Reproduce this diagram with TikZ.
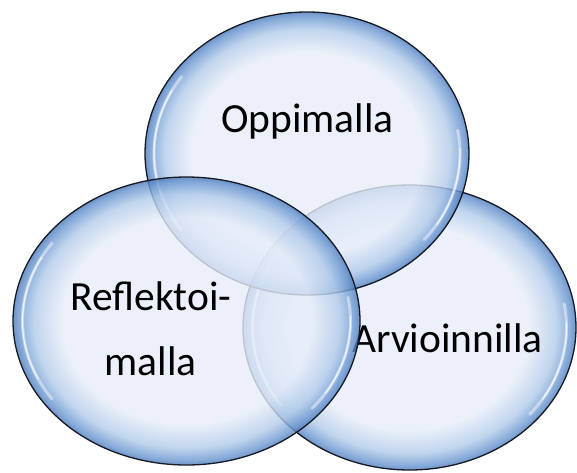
\documentclass[tikz,border=0pt]{standalone}
\usepackage{fontspec}
\setmainfont{Carlito}
\usetikzlibrary{shapes.geometric}

% bubble colours
\definecolor{bubblein}{RGB}{230,237,249}
\definecolor{bubblemid}{RGB}{178,203,234}
\definecolor{bubblerim}{RGB}{105,150,208}
\definecolor{bubbleedge}{RGB}{78,122,188}
\definecolor{bubbleline}{RGB}{20,25,35}

% light centre, blue rim
\pgfdeclareradialshading{bubble}{\pgfpoint{0bp}{0bp}}{%
  color(0bp)=(bubblein); color(18bp)=(bubblein); color(22bp)=(bubblemid);
  color(24.2bp)=(bubblerim); color(25bp)=(bubbleedge); color(50bp)=(bubbleedge)}

\tikzset{
  bubblenode/.style={ellipse, inner sep=0pt, shading=bubble, shade,
    fill opacity=0.8, draw=bubbleline, draw opacity=1, line width=1.3pt},
  gloss/.style={white, line width=3pt, line cap=round, draw opacity=0.45},
  glossthin/.style={white, line width=1.2pt, line cap=round, draw opacity=0.75},
  lbl/.style={font=\fontsize{41.5}{50}\selectfont, text=black, inner sep=0pt, anchor=base}
}

\begin{document}
\begin{tikzpicture}[x=1pt, y=1pt]
  \fill[white] (0,0) rectangle (577,472);
  \useasboundingbox (0,0) rectangle (577,472);

  % right bubble
  \node[bubblenode, minimum width=333pt, minimum height=285pt] (arvi) at (409.5,144.5) {};
  \begin{scope}[shift={(arvi.center)}]
    \draw[gloss] (145:157 and 135) arc[start angle=145, end angle=215, x radius=157, y radius=135];
    \draw[glossthin] (152:157 and 135) arc[start angle=152, end angle=205, x radius=157, y radius=135];
    \draw[gloss] (-40:157 and 135) arc[start angle=-40, end angle=10, x radius=157, y radius=135];
    \draw[glossthin] (-32:157 and 135) arc[start angle=-32, end angle=2, x radius=157, y radius=135];
  \end{scope}
  \node[lbl] (arvitext) at (447.5,120) {Arvioinnilla};

  % top bubble
  \node[bubblenode, minimum width=324pt, minimum height=283pt] (oppi) at (307,318.5) {};
  \begin{scope}[shift={(oppi.center)}]
    \draw[gloss] (145:153 and 134) arc[start angle=145, end angle=215, x radius=153, y radius=134];
    \draw[glossthin] (152:153 and 134) arc[start angle=152, end angle=205, x radius=153, y radius=134];
    \draw[gloss] (-40:153 and 134) arc[start angle=-40, end angle=10, x radius=153, y radius=134];
    \draw[glossthin] (-32:153 and 134) arc[start angle=-32, end angle=2, x radius=153, y radius=134];
  \end{scope}

  % left bubble
  \node[bubblenode, minimum width=347pt, minimum height=288pt] (refl) at (186.5,151) {};
  \begin{scope}[shift={(refl.center)}]
    \draw[gloss] (145:164 and 136) arc[start angle=145, end angle=215, x radius=164, y radius=136];
    \draw[glossthin] (152:164 and 136) arc[start angle=152, end angle=205, x radius=164, y radius=136];
    \draw[gloss] (-40:164 and 136) arc[start angle=-40, end angle=10, x radius=164, y radius=136];
    \draw[glossthin] (-32:164 and 136) arc[start angle=-32, end angle=2, x radius=164, y radius=136];
  \end{scope}

  % labels
  \node[lbl] (oppitext) at (307.5,339) {Oppimalla};
  \node[lbl] (refltext) at (151,162) {Reflektoi-};
  \node[lbl] (refltext2) at (150.5,97) {malla};
\end{tikzpicture}
\end{document}
